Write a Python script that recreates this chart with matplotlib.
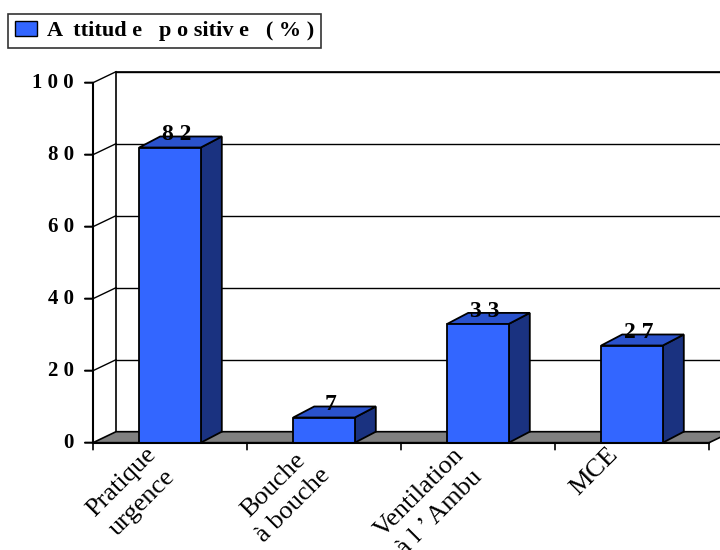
import matplotlib
matplotlib.use("Agg")
import matplotlib.pyplot as plt
from matplotlib.patches import Polygon, Rectangle, Patch
from matplotlib.transforms import ScaledTranslation
from matplotlib.lines import Line2D

# ---- data ----
categories = ["Pratique\nurgence", "Bouche\nà bouche", "Ventilation\nà l ’ Ambu", "MCE"]
values = [82, 7, 33, 27]
yticks = [0, 20, 40, 60, 80, 100]
ytick_labels = ["0", "2 0", "4 0", "6 0", "8 0", "1 0 0"]
legend_label = "A  ttitud e   p o sitiv e   ( % )"

# ---- style ----
FRONT = "#3366FF"
TOP = "#2A52CC"
SIDE = "#1A3280"
FLOOR = "#808080"
SERIF = ["Liberation Serif", "DejaVu Serif"]

W, H, DPI = 720, 550, 100
fig = plt.figure(figsize=(W / DPI, H / DPI), dpi=DPI)
fig.patch.set_facecolor("white")

n = len(categories)
ax = fig.add_axes([93 / W, (H - 442.7) / H, (709 - 93) / W, (442.7 - 82.7) / H])
ax.set_xlim(0, n)
ax.set_ylim(0, 100)
ax.axis("off")

def off(dx, dy):
    return ax.transData + ScaledTranslation(dx / DPI, dy / DPI, fig.dpi_scale_trans)

back = off(23, 11)
bar_back_dx, bar_back_dy = 21, 11

# back wall
ax.add_patch(Rectangle((0, 0), n, 100, transform=back, facecolor="white",
                       edgecolor="black", lw=1.2, clip_on=False, zorder=1))
# gridlines on back wall + side wall diagonals
for t in yticks:
    ax.add_line(Line2D([0, n], [t, t], transform=back, color="black", lw=1.0,
                       clip_on=False, zorder=2))
for t in yticks[1:]:
    p0 = ax.transData.transform((0, t))
    p1 = back.transform((0, t))
    ax.add_line(Line2D([p0[0], p1[0]], [p0[1], p1[1]], transform=None,
                       color="black", lw=1.0, clip_on=False, zorder=2))

# floor
f = [ax.transData.transform((0, 0)), ax.transData.transform((n, 0)),
     back.transform((n, 0)), back.transform((0, 0))]
ax.add_patch(Polygon(f, closed=True, transform=None, facecolor=FLOOR,
                     edgecolor="black", lw=1.2, clip_on=False, zorder=3))

# bars
bw = 0.4
btr = off(bar_back_dx, bar_back_dy)
for i, v in enumerate(values):
    c = i + 0.5
    x0, x1 = c - bw / 2, c + bw / 2
    front = [ax.transData.transform(p) for p in [(x0, 0), (x1, 0), (x1, v), (x0, v)]]
    side = [ax.transData.transform((x1, 0)), btr.transform((x1, 0)),
            btr.transform((x1, v)), ax.transData.transform((x1, v))]
    top = [ax.transData.transform((x0, v)), ax.transData.transform((x1, v)),
           btr.transform((x1, v)), btr.transform((x0, v))]
    for poly, col in [(side, SIDE), (top, TOP), (front, FRONT)]:
        ax.add_patch(Polygon(poly, closed=True, transform=None, facecolor=col,
                             edgecolor="black", lw=1.3, clip_on=False, zorder=5,
                             joinstyle="miter"))
    ax.text(c, v, " ".join(str(v)), transform=off(7, 12.5), ha="center", va="center",
            fontsize=17, fontweight="bold", family=SERIF, zorder=7, clip_on=False)

# front axes lines and ticks
ax.add_line(Line2D([0, 0], [0, 100], color="black", lw=1.5, clip_on=False, zorder=6))
ax.add_line(Line2D([0, n], [0, 0], color="black", lw=1.5, clip_on=False, zorder=6))
for t, lab in zip(yticks, ytick_labels):
    ax.annotate("", xy=(0, t), xytext=(-8, 0), textcoords="offset pixels",
                arrowprops=dict(arrowstyle="-", color="black", lw=1.5, shrinkA=0, shrinkB=0))
    ax.annotate(lab, xy=(0, t), xytext=(-19, 0), textcoords="offset pixels",
                ha="right", va="center", fontsize=15, fontweight="bold", family=SERIF)
for i in range(n + 1):
    ax.annotate("", xy=(i, 0), xytext=(0, -7), textcoords="offset pixels",
                arrowprops=dict(arrowstyle="-", color="black", lw=1.2, shrinkA=0, shrinkB=0))

# category labels
for i, lab in enumerate(categories):
    ax.annotate(lab, xy=(i + 0.5, 0), xytext=(-25, -1), textcoords="offset pixels",
                ha="right", va="top", rotation=45, rotation_mode="anchor",
                multialignment="center", linespacing=1.4,
                fontsize=19, family=SERIF)

# legend
leg = fig.legend(handles=[Patch(facecolor=FRONT, edgecolor="black", lw=1.0)],
                 labels=[legend_label], loc="upper left",
                 bbox_to_anchor=(8 / W, 1 - 14 / H), bbox_transform=fig.transFigure,
                 frameon=True, fancybox=False, borderaxespad=0,
                 prop=dict(family=SERIF, weight="bold", size=16),
                 handlelength=1.0, handleheight=0.65, handletextpad=0.45,
                 borderpad=0.3)
leg.get_frame().set_edgecolor("black")
leg.get_frame().set_linewidth(1.2)

fig.savefig("out.png", dpi=DPI)
